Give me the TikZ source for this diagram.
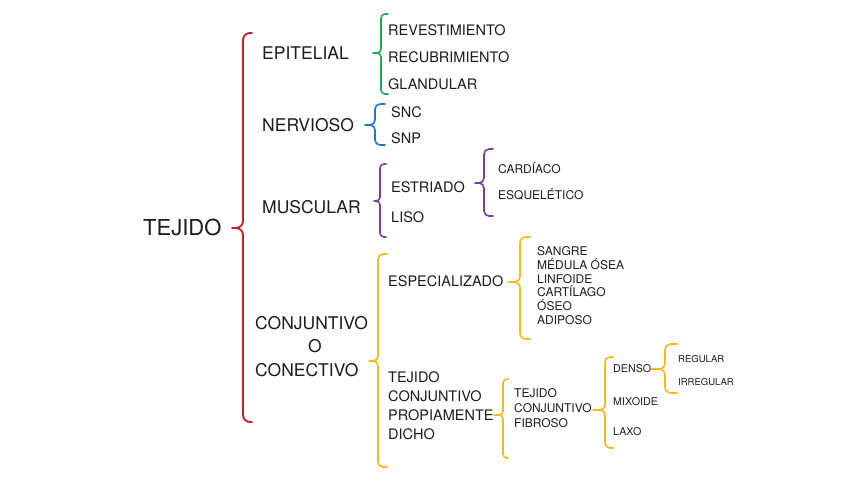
\documentclass[tikz,border=0pt]{standalone}
\usepackage{fontspec}
\setmainfont{TeX Gyre Heros}
\definecolor{ink}{RGB}{28,28,28}
\definecolor{bRed}{RGB}{196,32,44}
\definecolor{bGreen}{RGB}{34,172,94}
\definecolor{bBlue}{RGB}{28,122,200}
\definecolor{bPurple}{RGB}{122,62,160}
\definecolor{bYellow}{RGB}{246,186,24}

\begin{document}
\begin{tikzpicture}[x=1pt,y=-1pt,
  every node/.style={inner sep=0pt,text=ink},
  tA/.style={font=\fontsize{22}{26}\selectfont,anchor=west,text height=15.8pt,text depth=0pt},
  tB/.style={font=\fontsize{17.5}{23.5}\selectfont,anchor=west,text height=12.6pt,text depth=0pt},
  tC/.style={font=\fontsize{14.5}{19}\selectfont,anchor=west,text height=10.4pt,text depth=0pt},
  tD/.style={font=\fontsize{12}{13.7}\selectfont,anchor=west,text height=8.6pt,text depth=0pt},
  tE/.style={font=\fontsize{10.7}{13}\selectfont,anchor=west,text height=7.7pt,text depth=0pt},
  tF/.style={font=\fontsize{9.5}{12}\selectfont,anchor=west,text height=6.8pt,text depth=0pt},
  brc/.style={line width=1.6pt,line cap=round,line join=round,rounded corners=#1},
  brc/.default=5pt]
\fill[white] (0,0) rectangle (848,477);

% main node and first level
\node[tA] (tejido) at (143,228) {TEJIDO};
\node[tB] (epitelial) at (262,53) {EPITELIAL};
\node[tB] (nervioso) at (262,125) {NERVIOSO};
\node[tB] (muscular) at (262,207) {MUSCULAR};
\node[font=\fontsize{17.5}{23.5}\selectfont,anchor=north west,align=left] (conjuntivo) at (255,316) {CONJUNTIVO\\\hspace*{53pt}O\\CONECTIVO};

% second level
\node[tC] (revest) at (388,30) {REVESTIMIENTO};
\node[tC] (recub) at (388,57) {RECUBRIMIENTO};
\node[tC] (glandular) at (388,84) {GLANDULAR};
\node[tC] (snc) at (391,112) {SNC};
\node[tC] (snp) at (391,138) {SNP};
\node[tC] (estriado) at (391,187) {ESTRIADO};
\node[tC] (liso) at (391,217) {LISO};
\node[tC] (especializado) at (388,281) {ESPECIALIZADO};
\node[font=\fontsize{14.5}{19}\selectfont,anchor=north west,align=left] (propio) at (388,371.8) {TEJIDO\\CONJUNTIVO\\PROPIAMENTE\\DICHO};

% third level
\node[tD] (cardiaco) at (498,169) {CARDÍACO};
\node[tD] (esqueletico) at (498,195) {ESQUELÉTICO};
\node[font=\fontsize{12}{13.7}\selectfont,anchor=north west,align=left] (especial) at (537,246.7) {SANGRE\\MÉDULA ÓSEA\\LINFOIDE\\CARTÍLAGO\\ÓSEO\\ADIPOSO};
\node[font=\fontsize{12}{15}\selectfont,anchor=north west,align=left] (fibroso) at (514,388.7) {TEJIDO\\CONJUNTIVO\\FIBROSO};

% fourth and fifth level
\node[tE] (denso) at (613,369) {DENSO};
\node[tE] (mixoide) at (613,402) {MIXOIDE};
\node[tE] (laxo) at (613,432) {LAXO};
\node[tF] (regular) at (678,359) {REGULAR};
\node[tF] (irregular) at (678,382) {IRREGULAR};

% brace tips
\coordinate (tejTip) at (232,228);
\coordinate (epiTip) at (373,53);
\coordinate (nerTip) at (365,125);
\coordinate (musTip) at (374,201);
\coordinate (estTip) at (475,183);
\coordinate (conTip) at (369,361);
\coordinate (espTip) at (508,282);
\coordinate (proTip) at (494,415);
\coordinate (fibTip) at (593,410);

% braces
\draw[brc=7pt,bRed,line width=1.9pt] (252,33) -- (243,33) -- (243,228) -- (tejTip)
  (252,422) -- (243,422) -- (243,228) -- (tejTip);
\draw[brc=4pt,bGreen] (388,14) -- (381,14) -- (381,53) -- (epiTip)
  (388,94) -- (381,94) -- (381,53) -- (epiTip);
\draw[brc,bBlue] (385,104) -- (375,104) -- (375,125) -- (nerTip)
  (385,145) -- (375,145) -- (375,125) -- (nerTip);
\draw[brc=4pt,bPurple] (386,164) -- (380,164) -- (380,201) -- (musTip)
  (386,237) -- (380,237) -- (380,201) -- (musTip);
\draw[brc,bPurple] (493,149) -- (484,149) -- (484,183) -- (estTip)
  (493,216) -- (484,216) -- (484,183) -- (estTip);
\draw[brc,bYellow] (387,254) -- (378,254) -- (378,361) -- (conTip)
  (387,467) -- (378,467) -- (378,361) -- (conTip);
\draw[brc=6pt,bYellow] (530,237) -- (520,237) -- (520,282) -- (espTip)
  (530,339) -- (520,339) -- (520,282) -- (espTip);
\draw[brc=4pt,bYellow] (508,379) -- (503,379) -- (503,415) -- (proTip)
  (508,458) -- (503,458) -- (503,415) -- (proTip);
\draw[brc,bYellow] (613,357) -- (605,357) -- (605,410) -- (fibTip)
  (613,448) -- (605,448) -- (605,410) -- (fibTip);
\draw[brc=6pt,bYellow] (677,344) -- (665,344) -- (665,369) -- (denso.east)
  (677,393) -- (665,393) -- (665,369) -- (denso.east);
\end{tikzpicture}
\end{document}
